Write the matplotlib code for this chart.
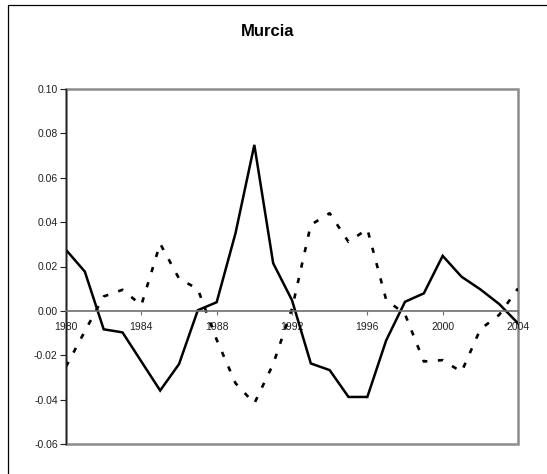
import numpy as np
import matplotlib
matplotlib.use("Agg")
import matplotlib.pyplot as plt
from matplotlib.patches import Rectangle
from matplotlib.ticker import FormatStrFormatter

plt.rcParams['font.family'] = ['Liberation Sans', 'DejaVu Sans']
plt.rcParams['axes.unicode_minus'] = False

title = "Murcia"
years = np.arange(1980, 2005)
solid = [0.0275, 0.0177, -0.0083, -0.0097, -0.0228, -0.0359, -0.0240, 0.0003,
         0.0039, 0.0350, 0.0748, 0.0215, 0.0048, -0.0237, -0.0267, -0.0388,
         -0.0388, -0.0133, 0.0041, 0.0079, 0.0248, 0.0154, 0.0097, 0.0031,
         -0.0056]
dashed = [-0.0251, -0.0092, 0.0065, 0.0095, 0.0026, 0.0303, 0.0146, 0.0098,
          -0.0130, -0.0326, -0.0417, -0.0240, 0.0010, 0.0388, 0.0440, 0.0311,
          0.0369, 0.0050, -0.0015, -0.0228, -0.0222, -0.0275, -0.0083, -0.0018,
          0.0101]
xticks = [1980, 1984, 1988, 1992, 1996, 2000, 2004]
yticks = [-0.06, -0.04, -0.02, 0.00, 0.02, 0.04, 0.06, 0.08, 0.10]

W, H = 547, 474
fig = plt.figure(figsize=(W / 100, H / 100), dpi=100)
fig.patch.set_facecolor('white')

# outer chart frame (cut off at right/bottom like the reference)
fig.patches.append(Rectangle((8 / W, -0.1), 1.2, 1 - 5 / H + 0.1,
                             transform=fig.transFigure, fill=False,
                             edgecolor='black', linewidth=0.9))

ax = fig.add_axes([66 / W, (H - 444) / H, 452 / W, 355 / H])
ax.plot(years, solid, color='black', linewidth=1.8, solid_joinstyle='miter')
ax.plot(years, dashed, color='black', linewidth=1.9, dashes=(2, 4),
        dash_capstyle='butt')

ax.set_xlim(1980, 2004)
ax.set_ylim(-0.06, 0.10)
ax.set_yticks(yticks)
ax.yaxis.set_major_formatter(FormatStrFormatter('%.2f'))
ax.set_xticks(xticks)

# plot-area border
ax.add_patch(Rectangle((0, 0), 1, 1, transform=ax.transAxes, fill=False,
                       edgecolor='#8c8c8c', linewidth=1.8, clip_on=False,
                       zorder=0.5))
for s in ['top', 'right']:
    ax.spines[s].set_visible(False)
ax.spines['left'].set_color('#202020')
ax.spines['left'].set_linewidth(1.0)
ax.spines['bottom'].set_position(('data', 0))
ax.spines['bottom'].set_color('#6e6e6e')
ax.spines['bottom'].set_linewidth(1.2)

ax.tick_params(axis='y', direction='out', length=4, width=0.8,
               labelsize=7.5, pad=2, colors='#202020')
ax.tick_params(axis='x', direction='out', length=3, width=0.8,
               labelsize=7.5, pad=5, color='#6e6e6e', labelcolor='#202020')

fig.text(268 / W, 1 - 32 / H, title, ha='center', va='center',
         fontsize=12, fontweight='bold')

fig.savefig("out.png", dpi=100)
